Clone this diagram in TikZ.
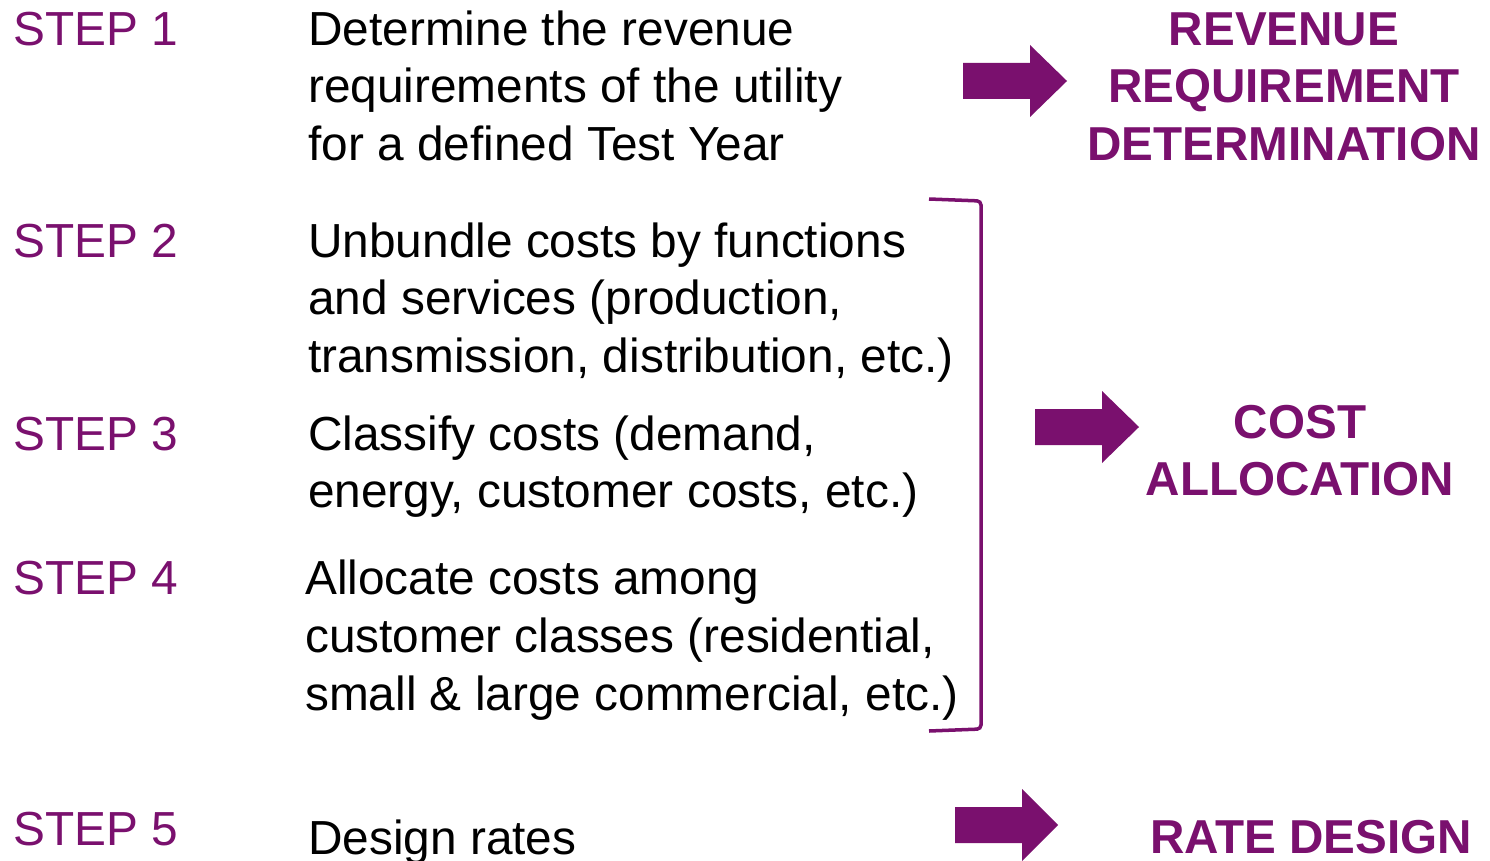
\documentclass[tikz,border=0pt]{standalone}
\usepackage{fontspec}
\setmainfont{Liberation Sans}
\definecolor{plum}{RGB}{122,16,110}
\begin{document}
\begin{tikzpicture}[x=1pt,y=-1pt,
  steplabel/.style={anchor=base west,inner sep=0pt,text=plum,font=\fontsize{47.8}{56}\selectfont},
  body/.style={anchor=base west,inner sep=0pt,text=black,font=\fontsize{47.8}{56}\selectfont},
  result/.style={anchor=base,inner sep=0pt,text=plum,font=\fontsize{47.6}{56}\selectfont\bfseries},
  blockarrow/.style={fill=plum,draw=none},
  bracketline/.style={draw=plum,line width=3.5pt,rounded corners=4pt}]
\useasboundingbox (0,0) rectangle (1490,861);
\fill[white] (0,0) rectangle (1490,861);
% step labels
\node[steplabel] (s1) at (13,46) {STEP 1};
\node[steplabel] (s2) at (13,257) {STEP 2};
\node[steplabel] (s3) at (13,450) {STEP 3};
\node[steplabel] (s4) at (13,594) {STEP 4};
\node[steplabel] (s5) at (13,845) {STEP 5};
% body text
\node[body] (b1a) at (308,46) {Determine the revenue};
\node[body] (b1b) at (308,103) {requirements of the utility};
\node[body] (b1c) at (308,161) {for a defined Test Year};
\node[body] (b2a) at (308,257) {Unbundle costs by functions};
\node[body] (b2b) at (308,314) {and services (production,};
\node[body] (b2c) at (308,372) {transmission, distribution, etc.)};
\node[body] (b3a) at (308,450) {Classify costs (demand,};
\node[body] (b3b) at (308,507) {energy, customer costs, etc.)};
\node[body] (b4a) at (305,594) {Allocate costs among};
\node[body] (b4b) at (305,652) {customer classes (residential,};
\node[body] (b4c) at (305,710) {small \& large commercial, etc.)};
\node[body] (b5a) at (308,854) {Design rates};
% results
\node[result] (r1a) at (1284,46) {REVENUE};
\node[result] (r1b) at (1284,103) {REQUIREMENT};
\node[result] (r1c) at (1284,161) {DETERMINATION};
\node[result] (r2a) at (1300,438) {COST};
\node[result] (r2b) at (1300,495) {ALLOCATION};
\node[result] (r3a) at (1311,853) {RATE DESIGN};
% block arrows
\fill[blockarrow] (963,63) -- (1030,63) -- (1030,45) -- (1067,81) -- (1030,117) -- (1030,99) -- (963,99) -- cycle;
\fill[blockarrow] (1035,409) -- (1102,409) -- (1102,391) -- (1139,427) -- (1102,463) -- (1102,445) -- (1035,445) -- cycle;
\fill[blockarrow] (955,807) -- (1022,807) -- (1022,789) -- (1058,825) -- (1022,861) -- (1022,843) -- (955,843) -- cycle;
% bracket
\draw[bracketline] (929,199) -- (981,201) -- (981,729) -- (929,731);
\end{tikzpicture}
\end{document}
